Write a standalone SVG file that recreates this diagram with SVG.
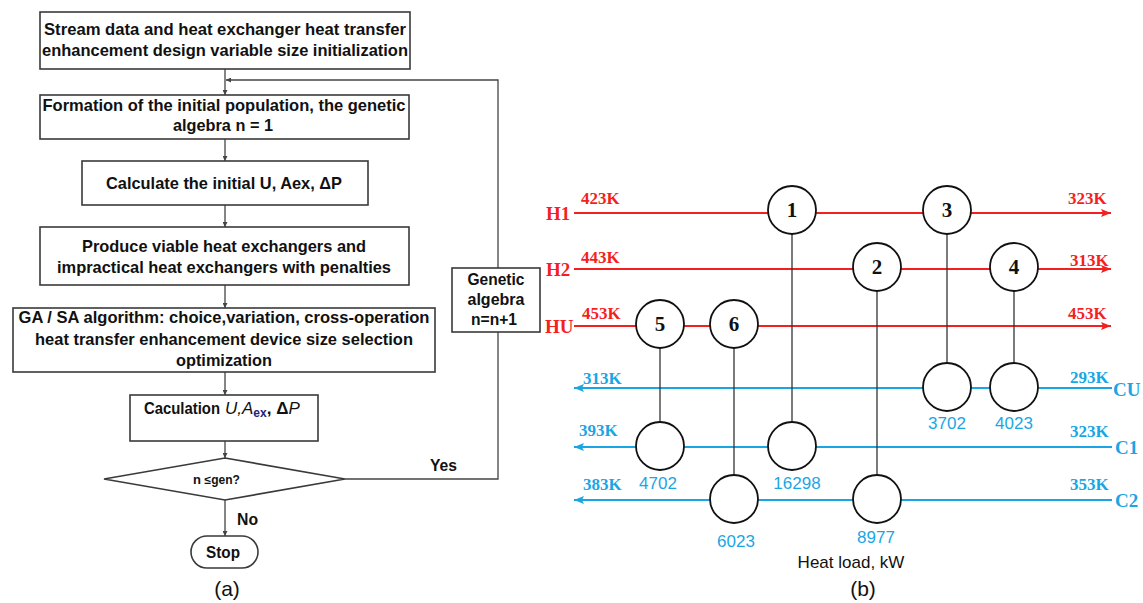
<svg xmlns="http://www.w3.org/2000/svg" width="1143" height="603" viewBox="0 0 1143 603">
<style>
.box{fill:#fff;stroke:#3a3a3a;stroke-width:1.6}
.fl{fill:none;stroke:#444;stroke-width:1.3}
.ft{font-family:"Liberation Sans",Arial,sans-serif;font-weight:bold;font-size:16.5px;fill:#111;text-anchor:middle}
.lab{font-family:"Liberation Sans",Arial,sans-serif;fill:#111}
.hot{stroke:#f41f1f;stroke-width:2;fill:none}
.cold{stroke:#1aa6e4;stroke-width:2;fill:none}
.tie{stroke:#333;stroke-width:1.3;fill:none}
.hx{fill:#fff;stroke:#111;stroke-width:1.8}
.ht{font-family:"Liberation Serif","Times New Roman",serif;font-weight:bold;font-size:17px;fill:#f41f1f}
.hb{font-family:"Liberation Serif","Times New Roman",serif;font-weight:bold;font-size:19px;fill:#f41f1f}
.ct{font-family:"Liberation Serif","Times New Roman",serif;font-weight:bold;font-size:17px;fill:#1aa6e4}
.cb{font-family:"Liberation Serif","Times New Roman",serif;font-weight:bold;font-size:19px;fill:#1aa6e4}
.num{font-family:"Liberation Serif","Times New Roman",serif;font-weight:bold;font-size:21px;fill:#111;text-anchor:middle}
.load{font-family:"Liberation Sans",Arial,sans-serif;font-size:17px;fill:#1aa6e4;text-anchor:middle}
</style>
<defs>
<marker id="fa" viewBox="0 0 6 6" refX="6" refY="3" markerWidth="5" markerHeight="5" orient="auto" markerUnits="userSpaceOnUse"><path d="M0,0 L6,3 L0,6 z" fill="#444"/></marker>
<marker id="ra" viewBox="0 0 10 8" refX="10" refY="4" markerWidth="10" markerHeight="8" orient="auto" markerUnits="userSpaceOnUse"><path d="M0,0 L10,4 L0,8 L2,4 z" fill="#f41f1f"/></marker>
<marker id="ba" viewBox="0 0 10 8" refX="10" refY="4" markerWidth="10" markerHeight="8" orient="auto" markerUnits="userSpaceOnUse"><path d="M0,0 L10,4 L0,8 L2,4 z" fill="#1aa6e4"/></marker>
</defs>

<!-- (a) flowchart connectors -->
<g id="flow-connectors">
<line class="fl" x1="225" y1="69" x2="225" y2="95" marker-end="url(#fa)"/>
<polyline class="fl" points="345,479 498,479 498,332"/>
<polyline class="fl" points="498,268 498,80 226,80" marker-end="url(#fa)"/>
<line class="fl" x1="225" y1="139" x2="225" y2="161" marker-end="url(#fa)"/>
<line class="fl" x1="225" y1="205" x2="225" y2="227" marker-end="url(#fa)"/>
<line class="fl" x1="225" y1="285" x2="225" y2="308" marker-end="url(#fa)"/>
<line class="fl" x1="225" y1="372" x2="225" y2="395" marker-end="url(#fa)"/>
<line class="fl" x1="225" y1="441" x2="225" y2="458" marker-end="url(#fa)"/>
<line class="fl" x1="225" y1="500" x2="225" y2="536" marker-end="url(#fa)"/>
<text class="lab" x="430" y="471" font-size="16" font-weight="bold" textLength="27" lengthAdjust="spacingAndGlyphs">Yes</text>
<text class="lab" x="237" y="525" font-size="16" font-weight="bold" textLength="21" lengthAdjust="spacingAndGlyphs">No</text>
</g>

<g id="init">
<rect class="box" x="40" y="12" width="370" height="57"/>
<text class="ft" x="225" y="35" textLength="362" lengthAdjust="spacingAndGlyphs">Stream data and heat exchanger heat transfer</text>
<text class="ft" x="225" y="56" textLength="366" lengthAdjust="spacingAndGlyphs">enhancement design variable size initialization</text>
</g>
<g id="population">
<rect class="box" x="40" y="95" width="369" height="44"/>
<text class="ft" x="224" y="111" textLength="363" lengthAdjust="spacingAndGlyphs">Formation of the initial population, the genetic</text>
<text class="ft" x="223" y="131" textLength="100" lengthAdjust="spacingAndGlyphs">algebra n = 1</text>
</g>
<g id="calc-initial">
<rect class="box" x="82" y="161" width="286" height="44"/>
<text class="ft" x="224" y="189" textLength="236" lengthAdjust="spacingAndGlyphs">Calculate the initial U, Aex, ΔP</text>
</g>
<g id="viable">
<rect class="box" x="40" y="227" width="369" height="58"/>
<text class="ft" x="224" y="252" textLength="284" lengthAdjust="spacingAndGlyphs">Produce viable heat exchangers and</text>
<text class="ft" x="224" y="273" textLength="334" lengthAdjust="spacingAndGlyphs">impractical heat exchangers with penalties</text>
</g>
<g id="gasa">
<rect class="box" x="13" y="308" width="422" height="64"/>
<text class="ft" x="224" y="323" textLength="411" lengthAdjust="spacingAndGlyphs">GA / SA algorithm: choice,variation, cross-operation</text>
<text class="ft" x="224" y="345" textLength="378" lengthAdjust="spacingAndGlyphs">heat transfer enhancement device size selection</text>
<text class="ft" x="224" y="366" textLength="96" lengthAdjust="spacingAndGlyphs">optimization</text>
</g>
<g id="caculation">
<rect class="box" x="130" y="395" width="188" height="46"/>
<text class="lab" x="144" y="414" font-size="16" font-weight="bold" textLength="76" lengthAdjust="spacingAndGlyphs">Caculation</text>
<text class="lab" x="225" y="414" font-size="17" font-style="italic">U,A<tspan font-size="12" font-style="normal" font-weight="bold" fill="#23237a" dy="3">ex</tspan><tspan dy="-3" font-style="normal" font-weight="bold">, Δ</tspan>P</text>
</g>
<g id="decision">
<polygon class="box" points="225,458 345,479 225,500 104,479"/>
<text class="lab" x="193" y="484" font-size="13" font-weight="bold">n <tspan font-size="12">≤gen?</tspan></text>
</g>
<g id="genetic">
<rect class="box" x="452" y="268" width="88" height="64"/>
<text class="ft" x="496" y="285" textLength="57" lengthAdjust="spacingAndGlyphs">Genetic</text>
<text class="ft" x="496" y="305" textLength="57" lengthAdjust="spacingAndGlyphs">algebra</text>
<text class="ft" x="494" y="325" textLength="46" lengthAdjust="spacingAndGlyphs">n=n+1</text>
</g>
<g id="stop">
<rect class="box" x="191" y="536" width="67" height="32" rx="16" ry="16"/>
<text class="ft" x="223" y="558" textLength="34" lengthAdjust="spacingAndGlyphs">Stop</text>
</g>
<text class="lab" x="227" y="596" font-size="21" text-anchor="middle">(a)</text>

<!-- (b) heat exchanger network -->
<g id="streams">
<line class="hot" x1="574" y1="213" x2="1111" y2="213" marker-end="url(#ra)"/>
<line class="hot" x1="574" y1="269" x2="1111" y2="269" marker-end="url(#ra)"/>
<line class="hot" x1="574" y1="326" x2="1111" y2="326" marker-end="url(#ra)"/>
<line class="cold" x1="1112" y1="388" x2="574" y2="388" marker-end="url(#ba)"/>
<line class="cold" x1="1112" y1="447" x2="574" y2="447" marker-end="url(#ba)"/>
<line class="cold" x1="1112" y1="500" x2="574" y2="500" marker-end="url(#ba)"/>
</g>
<g id="matches">
<line class="tie" x1="660" y1="348" x2="660" y2="423"/>
<line class="tie" x1="734" y1="348" x2="734" y2="476"/>
<line class="tie" x1="792" y1="234" x2="792" y2="423"/>
<line class="tie" x1="877" y1="291" x2="877" y2="476"/>
<line class="tie" x1="947" y1="234" x2="947" y2="364"/>
<line class="tie" x1="1014" y1="291" x2="1014" y2="364"/>
</g>
<g id="stream-labels">
<text class="hb" x="546" y="220">H1</text>
<text class="hb" x="546" y="276">H2</text>
<text class="hb" x="545" y="333">HU</text>
<text class="ht" x="581" y="204">423K</text>
<text class="ht" x="581" y="263">443K</text>
<text class="ht" x="582" y="319">453K</text>
<text class="ht" x="1068" y="204">323K</text>
<text class="ht" x="1070" y="266">313K</text>
<text class="ht" x="1068" y="319">453K</text>
<text class="ct" x="583" y="384">313K</text>
<text class="ct" x="579" y="436">393K</text>
<text class="ct" x="583" y="490">383K</text>
<text class="ct" x="1070" y="383">293K</text>
<text class="ct" x="1070" y="437">323K</text>
<text class="ct" x="1070" y="490">353K</text>
<text class="cb" x="1113" y="396">CU</text>
<text class="cb" x="1115" y="454">C1</text>
<text class="cb" x="1115" y="507">C2</text>
</g>
<g id="hx1"><circle class="hx" cx="792" cy="210" r="24"/><text class="num" x="792" y="217">1</text><circle class="hx" cx="792" cy="446" r="24"/><text class="load" x="797" y="489">16298</text></g>
<g id="hx2"><circle class="hx" cx="877" cy="267" r="24"/><text class="num" x="877" y="274">2</text><circle class="hx" cx="877" cy="499" r="24"/><text class="load" x="876" y="543">8977</text></g>
<g id="hx3"><circle class="hx" cx="947" cy="210" r="24"/><text class="num" x="947" y="217">3</text><circle class="hx" cx="947" cy="387" r="24"/><text class="load" x="947" y="429">3702</text></g>
<g id="hx4"><circle class="hx" cx="1014" cy="267" r="24"/><text class="num" x="1014" y="274">4</text><circle class="hx" cx="1014" cy="387" r="24"/><text class="load" x="1014" y="429">4023</text></g>
<g id="hx5"><circle class="hx" cx="660" cy="324" r="24"/><text class="num" x="660" y="331">5</text><circle class="hx" cx="660" cy="446" r="24"/><text class="load" x="658" y="489">4702</text></g>
<g id="hx6"><circle class="hx" cx="734" cy="324" r="24"/><text class="num" x="734" y="331">6</text><circle class="hx" cx="734" cy="499" r="24"/><text class="load" x="736" y="547">6023</text></g>
<text class="lab" x="851" y="568" font-size="17" text-anchor="middle" fill="#222">Heat load, kW</text>
<text class="lab" x="863" y="596" font-size="21" text-anchor="middle">(b)</text>
</svg>
